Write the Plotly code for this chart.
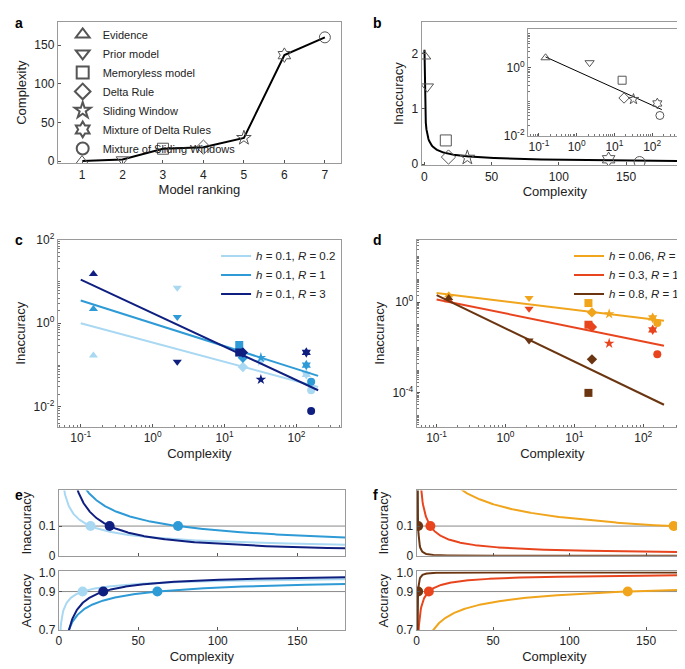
import numpy as np
import plotly.graph_objects as go

W, H = 685, 669
FONT = "Liberation Sans Narrow, Liberation Sans, Arial"
GRAY = "#9a9a9a"

# ---- data ----
models = ["Evidence", "Prior model", "Memoryless model", "Delta Rule",
          "Sliding Window", "Mixture of Delta Rules", "Mixture of Sliding Windows"]
symbols = ["triangle-up", "triangle-down", "square", "diamond", "star", "hexagram", "circle"]
ranking = [1, 2, 3, 4, 5, 6, 7]
complexity_a = [0, 2, 16, 18, 30, 137, 160]

complexity_b = [0.15, 2.2, 16, 18, 32, 137, 160]
inaccuracy_b = [1.95, 1.4, 0.43, 0.13, 0.12, 0.09, 0.04]
fit_b = (0.8, 0.5)  # inaccuracy = a * C^-b

# panel c: (label, colour, inaccuracy per model, fit endpoints at C=0.1 and C=200)
series_c = [
    ("<i>h</i> = 0.1, <i>R</i> = 0.2", "#a9d8f2", [0.17, 7.0, 0.2, 0.09, 0.12, 0.06, 0.025], (1.0, 0.03)),
    ("<i>h</i> = 0.1, <i>R</i> = 1", "#2e9ad6", [2.2, 1.4, 0.3, 0.15, 0.15, 0.1, 0.04], (3.5, 0.055)),
    ("<i>h</i> = 0.1, <i>R</i> = 3", "#0f1f80", [15, 0.12, 0.2, 0.2, 0.045, 0.2, 0.008], (11, 0.025)),
]
series_d = [
    ("<i>h</i> = 0.06, <i>R</i> = 1", "#f0a51c", [2.0, 1.5, 0.9, 0.35, 0.3, 0.2, 0.12], (2.5, 0.15)),
    ("<i>h</i> = 0.3, <i>R</i> = 1", "#e8451e", [1.2, 0.5, 0.1, 0.08, 0.015, 0.06, 0.005], (1.3, 0.012)),
    ("<i>h</i> = 0.8, <i>R</i> = 1", "#6a3510", [1.5, 0.02, 0.0001, 0.003, None, None, None], (2.0, 0.00003)),
]
fit_x = [0.1, 200]

# panels e/f: inaccuracy = a*C^-b, accuracy = 1 - a*C^-b ; crossing point complexity
e_inacc = [("#a9d8f2", 0.385, 0.45, 20), ("#2e9ad6", 1.05, 0.545, 75), ("#0f1f80", 1.6, 0.8, 32)]
e_acc = [("#a9d8f2", 0.312, 0.42, 15), ("#2e9ad6", 0.725, 0.48, 62), ("#0f1f80", 1.2, 0.745, 28)]
f_inacc = [("#f0a51c", 1.05, 0.46, 168), ("#e8451e", 0.476, 0.71, 9), ("#6a3510", 0.1, 1.5, 1)]
f_acc = [("#f0a51c", 0.85, 0.435, 138), ("#e8451e", 0.355, 0.61, 8), ("#6a3510", 0.1, 1.5, 1)]

fig = go.Figure()


def dom(x0, x1, y0, y1):
    return [x0 / W, x1 / W], [1 - y1 / H, 1 - y0 / H]


def axis(dom_, anchor, title=None, rng=None, log=False, **kw):
    d = dict(domain=dom_, anchor=anchor, showline=True, mirror=True, linecolor=GRAY,
             linewidth=1, ticks="inside", ticklen=3, tickcolor="#555", showgrid=False,
             zeroline=False, tickfont=dict(size=12, color="#222"))
    if title:
        d["title"] = dict(text=title, font=dict(size=13, color="#222"), standoff=4)
    if log:
        d["type"] = "log"
        d["minor"] = dict(ticks="inside", ticklen=2, tickcolor="#777", dtick="D1")
    if rng is not None:
        d["range"] = rng
    d.update(kw)
    return d


def sup(e):
    return "10<sup>%d</sup>" % e


lay = {}
# a
dx, dy = dom(47, 332, 5, 150)
lay["xaxis"] = axis(dx, "y", "Model ranking", [0.4, 7.4], tickvals=ranking)
lay["yaxis"] = axis(dy, "x", "Complexity", [-3, 180], tickvals=[0, 50, 100, 150])
# b
dx, dy = dom(413, 681, 5, 152)
lay["xaxis2"] = axis(dx, "y2", "Complexity", [-2, 196], tickvals=[0, 50, 100, 150])
lay["yaxis2"] = axis(dy, "x2", "Inaccuracy", [-0.02, 2.57], tickvals=[0, 1, 2])
# inset
dx, dy = dom(520, 681, 12, 122)
lay["xaxis3"] = axis(dx, "y3", None, [-1.29, 2.95], True,
                     tickvals=[0.1, 1, 10, 100], ticktext=[sup(e) for e in (-1, 0, 1, 2)])
lay["yaxis3"] = axis(dy, "x3", None, [-2.0, 1.14], True,
                     tickvals=[0.01, 1], ticktext=[sup(-2), sup(0)])
# c
dx, dy = dom(47, 332, 228, 420)
lay["xaxis4"] = axis(dx, "y4", "Complexity", [-1.32, 2.62], True,
                     tickvals=[0.1, 1, 10, 100], ticktext=[sup(e) for e in (-1, 0, 1, 2)])
lay["yaxis4"] = axis(dy, "x4", "Inaccuracy", [-2.48, 2.0], True,
                     tickvals=[0.01, 1, 100], ticktext=[sup(-2), sup(0), sup(2)])
# d
dx, dy = dom(408, 681, 228, 420)
lay["xaxis5"] = axis(dx, "y5", "Complexity", [-1.29, 2.65], True,
                     tickvals=[0.1, 1, 10, 100], ticktext=[sup(e) for e in (-1, 0, 1, 2)])
lay["yaxis5"] = axis(dy, "x5", "Inaccuracy", [-5.5, 2.75], True,
                     tickvals=[0.0001, 1], ticktext=[sup(-4), sup(0)])
# e / f
for i, (x0, x1) in ((6, (48, 336)), (8, (408, 685))):
    dx, dy = dom(x0, x1, 485, 552)
    lay["xaxis%d" % i] = axis(dx, "y%d" % i, None, [0, 180], tickvals=[0, 50, 100, 150],
                              showticklabels=False)
    lay["yaxis%d" % i] = axis(dy, "x%d" % i, "Inaccuracy", [0, 0.22], tickvals=[0, 0.1],
                              ticktext=["0", "0.1"])
    dx, dy = dom(x0, x1, 568, 628)
    lay["xaxis%d" % (i + 1)] = axis(dx, "y%d" % (i + 1), "Complexity", [0, 180],
                                    tickvals=[0, 50, 100, 150])
    lay["yaxis%d" % (i + 1)] = axis(dy, "x%d" % (i + 1), "Accuracy", [0.7, 1.005],
                                    tickvals=[0.7, 0.9, 1.0], ticktext=["0.7", "0.9", "1.0"])

# ---- traces ----
fig.add_trace(go.Scatter(x=ranking, y=complexity_a, mode="lines", line=dict(color="black", width=2),
                         showlegend=False, xaxis="x", yaxis="y"))
for r, c, m, s in zip(ranking, complexity_a, models, symbols):
    fig.add_trace(go.Scatter(x=[r], y=[c], mode="markers", name=m, legend="legend",
                             marker=dict(symbol=s + "-open", size=11, color="#555",
                                         line=dict(width=1)),
                             xaxis="x", yaxis="y"))

cb = np.linspace(0.15, 196, 400)
fig.add_trace(go.Scatter(x=cb, y=fit_b[0] * cb ** -fit_b[1], mode="lines",
                         line=dict(color="black", width=2), showlegend=False, xaxis="x2", yaxis="y2"))
ci = np.array([0.15, 180])
fig.add_trace(go.Scatter(x=ci, y=fit_b[0] * ci ** -fit_b[1], mode="lines",
                         line=dict(color="black", width=1), showlegend=False, xaxis="x3", yaxis="y3"))
for xa, ya, sz in (("x2", "y2", 11), ("x3", "y3", 8)):
    for x, y, s in zip(complexity_b, inaccuracy_b, symbols):
        fig.add_trace(go.Scatter(x=[x], y=[y], mode="markers", showlegend=False,
                                 marker=dict(symbol=s + "-open", size=sz, color="#555",
                                             line=dict(width=1)), xaxis=xa, yaxis=ya))

for series, xa, ya, lg in ((series_c, "x4", "y4", "legend2"), (series_d, "x5", "y5", "legend3")):
    for name, col, vals, ends in series:
        fig.add_trace(go.Scatter(x=fit_x, y=list(ends), mode="lines", name=name, legend=lg,
                                 line=dict(color=col, width=2), xaxis=xa, yaxis=ya))
        pts = [(x, v, s) for x, v, s in zip(complexity_b, vals, symbols) if v is not None]
        fig.add_trace(go.Scatter(x=[p[0] for p in pts], y=[p[1] for p in pts], mode="markers",
                                 showlegend=False, marker=dict(symbol=[p[2] for p in pts], size=8,
                                                               color=col),
                                 xaxis=xa, yaxis=ya))

cc = np.linspace(0.3, 180, 600)
for curves, xa, ya, acc in ((e_inacc, "x6", "y6", False), (e_acc, "x7", "y7", True),
                            (f_inacc, "x8", "y8", False), (f_acc, "x9", "y9", True)):
    ref = 0.9 if acc else 0.1
    fig.add_trace(go.Scatter(x=[0, 180], y=[ref, ref], mode="lines", showlegend=False,
                             line=dict(color="#888", width=1), xaxis=xa, yaxis=ya))
    for col, a, b, cx in curves:
        y = a * cc ** -b
        if acc:
            y = 1 - y
        fig.add_trace(go.Scatter(x=cc, y=y, mode="lines", showlegend=False,
                                 line=dict(color=col, width=2), xaxis=xa, yaxis=ya))
        fig.add_trace(go.Scatter(x=[cx], y=[ref], mode="markers", showlegend=False,
                                 marker=dict(color=col, size=10), xaxis=xa, yaxis=ya))

for letter, px, py in (("a", 2, 6), ("b", 362, 6), ("c", 2, 228), ("d", 362, 228),
                       ("e", 2, 490), ("f", 362, 490)):
    fig.add_annotation(x=px / W, y=1 - py / H, xref="paper", yref="paper", text="<b>%s</b>" % letter,
                       showarrow=False, xanchor="left", yanchor="middle",
                       font=dict(size=14, family="Liberation Sans", color="black"))

leg = dict(bgcolor="rgba(0,0,0,0)", font=dict(size=11.5, color="#222"), tracegroupgap=0)
fig.update_layout(
    width=W, height=H, margin=dict(l=0, r=0, t=0, b=0), plot_bgcolor="white",
    paper_bgcolor="white", font=dict(family=FONT, color="#222"),
    legend=dict(leg, x=52 / W, y=1 - 3 / H, xanchor="left", yanchor="top", itemsizing="constant",
                itemwidth=30, font=dict(size=11, color="#222")),
    legend2=dict(leg, x=332 / W, y=1 - 230 / H, xanchor="right", yanchor="top", itemwidth=30),
    legend3=dict(leg, x=684 / W, y=1 - 230 / H, xanchor="right", yanchor="top", itemwidth=30),
    **lay)
fig.write_html("out.html")
